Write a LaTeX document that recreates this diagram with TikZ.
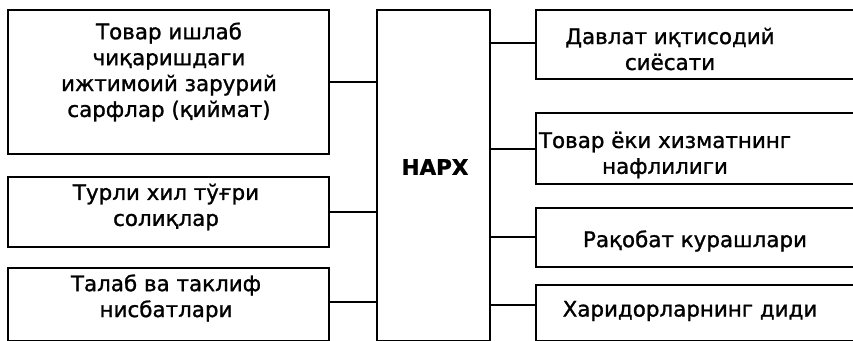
\documentclass[tikz,border=0pt]{standalone}
\usepackage{fontspec}
\setmainfont[FakeBold=1.2]{DejaVu Sans}
\usetikzlibrary{fit}
\begin{document}
\begin{tikzpicture}[x=1bp,y=-1bp,
  box/.style={draw, line width=1.6bp, inner sep=0pt},
  lbl/.style={align=center, inner sep=0pt, font=\fontsize{21.5}{26}\selectfont},
  conn/.style={line width=1.6bp}]
\useasboundingbox (0,0) rectangle (853,340);
\clip (0,0) rectangle (853,340);
% left boxes
\node[box, fit={(8,10) (329,154)}] (L1) {};
\node[box, fit={(8,177) (329,247)}] (L2) {};
\node[box, fit={(8,268) (329,340.5)}] (L3) {};
% centre
\node[box, fit={(377,10) (490,340.5)}] (C) {};
% right boxes
\node[box, fit={(536,10) (870,79)}] (R1) {};
\node[box, fit={(536,113) (870,184)}] (R2) {};
\node[box, fit={(536,208) (870,267)}] (R3) {};
\node[box, fit={(536,285) (870,340.5)}] (R4) {};
% texts
\node[lbl] (t1) at (169,72) {Товар ишлаб\\чиқаришдаги\\ижтимоий зарурий\\сарфлар (қиймат)};
\node[lbl] (t2) at (166,207) {Турли хил тўғри\\солиқлар};
\node[lbl] (t3) at (166,298) {Талаб ва таклиф\\нисбатлари};
\node[lbl, font=\fontsize{21.5}{26}\selectfont\bfseries] (tc) at (435,167) {НАРХ};
\node[lbl] (r1) at (670,49) {Давлат иқтисодий\\сиёсати};
\node[lbl] (r2) at (665,155) {Товар ёки хизматнинг\\нафлилиги};
\node[lbl] (r3) at (695,241) {Рақобат курашлари};
\node[lbl] (r4) at (690,311) {Харидорларнинг диди};
% connectors
\draw[conn] (L1.east) -- (L1.east -| C.west);
\draw[conn] (L2.east) -- (L2.east -| C.west);
\draw[conn] (L3.east |- 0,302) -- (C.west |- 0,302);
\draw[conn] (C.east |- 0,43) -- (R1.west |- 0,43);
\draw[conn] (C.east |- 0,149) -- (R2.west |- 0,149);
\draw[conn] (C.east |- 0,237) -- (R3.west |- 0,237);
\draw[conn] (C.east |- 0,305) -- (R4.west |- 0,305);
\end{tikzpicture}
\end{document}
